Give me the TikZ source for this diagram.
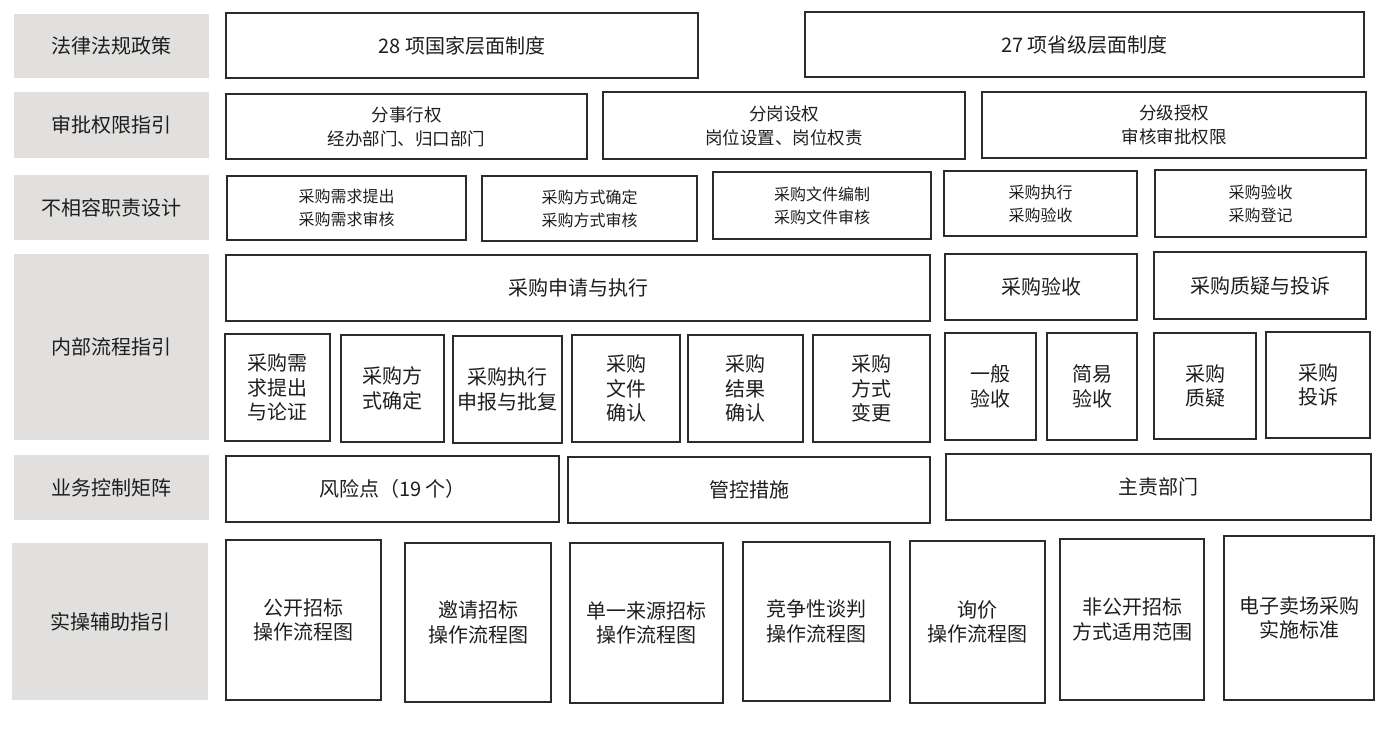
\documentclass[tikz,border=0pt]{standalone}
\usepackage{fontspec}
\setmainfont{Noto Sans CJK SC}
\definecolor{huise}{HTML}{E1E0DF}
\definecolor{bianxian}{HTML}{2B2B2B}
\definecolor{wenzi}{HTML}{1E1E1E}

\begin{document}
\begin{tikzpicture}[x=1pt, y=-1pt,
    biaoqian/.style={fill=huise, inner sep=0pt, text=wenzi, font=\fontsize{20}{24}\selectfont},
    kuang/.style={draw=bianxian, line width=1.5pt, inner sep=0pt, align=center, text=wenzi},
    da/.style={font=\fontsize{20}{24.5}\selectfont},
    zhong/.style={font=\fontsize{17.5}{24}\selectfont},
    xiao/.style={font=\fontsize{16}{23}\selectfont}]
    % 画布范围
    \useasboundingbox (0,0) rectangle (1389,728);

    % 左侧灰色标签
    \node[biaoqian, minimum width=195, minimum height=64] (falv) at (111,46) {法律法规政策};
    \node[biaoqian, minimum width=195, minimum height=66] (shenpi) at (111,125) {审批权限指引};
    \node[biaoqian, minimum width=195, minimum height=65] (buxiangrong) at (111,207.5) {不相容职责设计};
    \node[biaoqian, minimum width=195, minimum height=186] (neibu) at (111,347) {内部流程指引};
    \node[biaoqian, minimum width=195, minimum height=65] (yewu) at (111,487.5) {业务控制矩阵};
    \node[biaoqian, minimum width=196, minimum height=157] (shicao) at (110,621.5) {实操辅助指引};

    % 法律法规政策
    \node[kuang, da, minimum width=472, minimum height=65] (guojia) at (462,45.5) {28 项国家层面制度};
    \node[kuang, da, minimum width=559, minimum height=65] (shengji) at (1084.5,44.5) {27 项省级层面制度};

    % 审批权限指引
    \node[kuang, zhong, minimum width=361, minimum height=65] (fenshi) at (406.5,126.5) {分事行权\\经办部门、归口部门};
    \node[kuang, zhong, minimum width=362, minimum height=67] (fengang) at (784,125.5) {分岗设权\\岗位设置、岗位权责};
    \node[kuang, zhong, minimum width=384, minimum height=66] (fenji) at (1174,125) {分级授权\\审核审批权限};

    % 不相容职责设计
    \node[kuang, xiao, minimum width=239, minimum height=64] (xuqiu) at (346.5,208) {采购需求提出\\采购需求审核};
    \node[kuang, xiao, minimum width=215, minimum height=65] (fangshi) at (589.5,208.5) {采购方式确定\\采购方式审核};
    \node[kuang, xiao, minimum width=218, minimum height=67] (wenjian) at (822,205.5) {采购文件编制\\采购文件审核};
    \node[kuang, xiao, minimum width=193, minimum height=65] (zhixing) at (1040.5,203.5) {采购执行\\采购验收};
    \node[kuang, xiao, minimum width=211, minimum height=67] (dengji) at (1260.5,203.5) {采购验收\\采购登记};

    % 内部流程指引：上层
    \node[kuang, da, minimum width=704, minimum height=66] (shenqing) at (578,288) {采购申请与执行};
    \node[kuang, da, minimum width=192, minimum height=66] (yanshou) at (1041,287) {采购验收};
    \node[kuang, da, minimum width=212, minimum height=67] (zhiyi) at (1260,285.5) {采购质疑与投诉};

    % 内部流程指引：下层
    \node[kuang, da, minimum width=105, minimum height=107] (lunzheng) at (277.5,387.5) {采购需\\求提出\\与论证};
    \node[kuang, da, minimum width=103, minimum height=107] (queding) at (392.5,388.5) {采购方\\式确定};
    \node[kuang, da, minimum width=109, minimum height=107] (pifu) at (507.5,389.5) {采购执行\\申报与批复};
    \node[kuang, da, minimum width=108, minimum height=107] (wjqueren) at (626,388.5) {采购\\文件\\确认};
    \node[kuang, da, minimum width=115, minimum height=107] (jgqueren) at (745.5,388.5) {采购\\结果\\确认};
    \node[kuang, da, minimum width=117, minimum height=107] (biangeng) at (871.5,388.5) {采购\\方式\\变更};
    \node[kuang, da, minimum width=91, minimum height=107] (yiban) at (990.5,386.5) {一般\\验收};
    \node[kuang, da, minimum width=90, minimum height=107] (jianyi) at (1092,386.5) {简易\\验收};
    \node[kuang, da, minimum width=102, minimum height=106] (zhiyixia) at (1205,386) {采购\\质疑};
    \node[kuang, da, minimum width=104, minimum height=106] (tousu) at (1318,385) {采购\\投诉};

    % 业务控制矩阵
    \node[kuang, da, minimum width=333, minimum height=66] (fengxian) at (392.5,489) {风险点（19 个）};
    \node[kuang, da, minimum width=362, minimum height=66] (guankong) at (749,490) {管控措施};
    \node[kuang, da, minimum width=425, minimum height=66] (zhuze) at (1158.5,487) {主责部门};

    % 实操辅助指引
    \node[kuang, da, minimum width=155, minimum height=160] (gongkai) at (303.5,620) {公开招标\\操作流程图};
    \node[kuang, da, minimum width=146, minimum height=159] (yaoqing) at (478,622.5) {邀请招标\\操作流程图};
    \node[kuang, da, minimum width=153, minimum height=160] (danyi) at (646.5,623) {单一来源招标\\操作流程图};
    \node[kuang, da, minimum width=147, minimum height=159] (tanpan) at (816.5,621.5) {竞争性谈判\\操作流程图};
    \node[kuang, da, minimum width=135, minimum height=162] (xunjia) at (977.5,622) {询价\\操作流程图};
    \node[kuang, da, minimum width=144, minimum height=161] (feigongkai) at (1132,619.5) {非公开招标\\方式适用范围};
    \node[kuang, da, minimum width=150, minimum height=164] (maichang) at (1299,618) {电子卖场采购\\实施标准};
\end{tikzpicture}
\end{document}
